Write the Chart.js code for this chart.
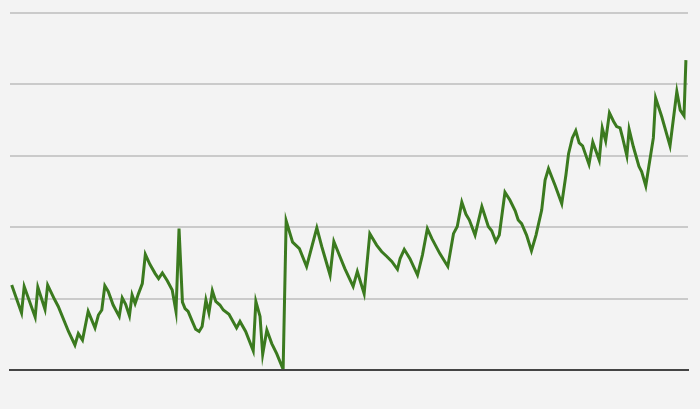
<!DOCTYPE html>
<html>
<head>
<meta charset="utf-8">
<script src="https://cdn.jsdelivr.net/npm/chart.js@4/dist/chart.umd.min.js"></script>
<style>
  html, body { margin: 0; padding: 0; background: #f3f3f3; }
  #wrap { width: 700px; height: 409px; }
</style>
</head>
<body>
<div id="wrap"><canvas id="c" width="700" height="409"></canvas></div>
<script>
// Day offsets of each observation (x) and the series value (y)
const days = [0, 26, 33, 62, 69, 88, 95, 113, 123, 150, 167, 176, 187, 202, 220, 229, 238, 246, 255, 268,
  284, 292, 301, 311, 318, 326, 335, 345, 353, 365, 379, 388, 398, 411, 424, 434, 442, 451, 458, 466,
  477, 486, 495, 503, 513, 521, 530, 539, 550, 559, 574, 594, 603, 618, 638, 645, 656, 663, 674, 687,
  700, 717, 725, 742, 760, 779, 806, 819, 841, 851, 867, 880, 902, 913, 931, 946, 964, 977, 991, 1004,
  1019, 1026, 1037, 1052, 1072, 1085, 1098, 1110, 1131, 1152, 1167, 1177, 1189, 1200, 1209, 1224, 1242, 1259, 1268, 1279,
  1288, 1303, 1316, 1330, 1338, 1347, 1360, 1373, 1385, 1400, 1409, 1418, 1435, 1453, 1464, 1471, 1481, 1490, 1499, 1508,
  1525, 1535, 1552, 1560, 1569, 1579, 1590, 1598, 1607, 1613, 1625, 1631, 1642, 1657, 1664, 1675, 1683, 1695, 1701, 1717,
  1739, 1757, 1766, 1776, 1781];
const values = [11.9, 8.0, 11.7, 7.4, 11.6, 8.5, 11.9, 9.9, 8.9, 5.4, 3.5, 5.1, 4.2, 8.2, 5.9, 7.7, 8.4, 11.8, 11.0, 9.1,
  7.5, 10.1, 9.2, 7.6, 10.5, 9.3, 10.7, 12.1, 16.2, 14.8, 13.5, 12.8, 13.6, 12.5, 11.2, 8.2, 19.8, 9.5, 8.6, 8.2,
  6.8, 5.7, 5.4, 6.1, 9.8, 8.0, 11.1, 9.6, 9.1, 8.4, 7.8, 5.9, 6.8, 5.4, 2.7, 9.6, 7.5, 2.2, 5.6, 3.7,
  2.3, 0.1, 20.9, 17.9, 17.0, 14.5, 19.9, 17.3, 13.3, 18.0, 15.9, 14.2, 11.7, 13.8, 10.7, 19.1, 17.5, 16.6, 15.9, 15.2,
  14.1, 15.6, 16.9, 15.6, 13.3, 16.1, 19.8, 18.4, 16.3, 14.5, 19.1, 20.1, 23.5, 21.8, 21.0, 18.9, 22.9, 20.1, 19.5, 18.0,
  18.9, 24.9, 23.8, 22.3, 21.0, 20.5, 18.9, 16.7, 18.9, 22.4, 26.6, 28.2, 25.9, 23.3, 27.3, 30.3, 32.5, 33.5, 31.8, 31.4,
  28.8, 31.9, 29.4, 33.9, 32.1, 36.0, 34.8, 34.1, 33.9, 32.7, 30.0, 33.7, 31.3, 28.5, 27.8, 25.8, 28.5, 32.5, 38.1, 35.5,
  31.4, 39.0, 36.4, 35.6, 43.4];
const yTicks = [0, 10, 20, 30, 40, 50];

const points = days.map((d, i) => ({ x: d, y: values[i] }));

new Chart(document.getElementById('c'), {
  type: 'line',
  data: {
    datasets: [{
      data: points,
      borderColor: '#3b7a1f',
      borderWidth: 3,
      pointRadius: 0,
      tension: 0,
      fill: false
    }]
  },
  options: {
    responsive: false,
    animation: false,
    layout: { padding: { left: 10, right: 12, top: 13, bottom: 39 } },
    plugins: { legend: { display: false }, tooltip: { enabled: false } },
    scales: {
      x: {
        type: 'linear',
        min: -4.5,
        max: 1786.5,
        grid: { display: false, drawTicks: false },
        ticks: { display: false },
        border: { display: true, color: '#444444', width: 2, z: 2 }
      },
      y: {
        min: yTicks[0],
        max: yTicks[yTicks.length - 1],
        afterBuildTicks: (s) => { s.ticks = yTicks.map(v => ({ value: v })); },
        grid: { color: '#cacaca', lineWidth: 2, drawTicks: false },
        ticks: { display: false },
        border: { display: false }
      }
    }
  }
});
</script>
</body>
</html>
